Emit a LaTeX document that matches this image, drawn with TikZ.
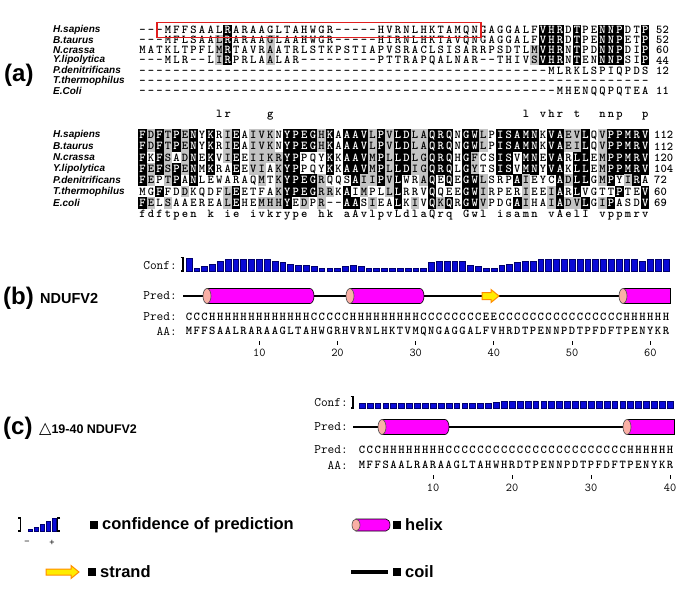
\documentclass[tikz,border=0pt]{standalone}
\usepackage{fontspec}
\usepackage{graphicx}
\newfontfamily\lsans{Liberation Sans}
\newfontfamily\djvb{DejaVu Sans}
\definecolor{shadegray}{RGB}{195,195,195}
\definecolor{hmag}{RGB}{255,0,255}
\definecolor{hcap}{RGB}{250,175,165}
\definecolor{barblue}{RGB}{10,10,215}
\definecolor{barline}{RGB}{0,0,110}
\definecolor{stfill}{RGB}{255,236,0}
\definecolor{stline}{RGB}{255,140,0}
\definecolor{boxred}{RGB}{225,30,30}
\newcommand\seqfont{\ttfamily\bfseries\fontsize{12}{12}\selectfont}
\tikzset{
 seqch/.style={inner sep=0pt, font=\seqfont, text=black, text height=7.3pt, text depth=0pt},
 seqw/.style={seqch, text=white},
 species/.style={inner sep=0pt, anchor=west, font=\lsans\bfseries\itshape\fontsize{10}{10}\selectfont},
 rownum/.style={inner sep=0pt, anchor=west, font=\ttfamily\bfseries\fontsize{12}{12}\selectfont},
 plabel/.style={inner sep=0pt, anchor=west, font=\lsans\bfseries\fontsize{24}{24}\selectfont},
 pname/.style={inner sep=0pt, anchor=west, font=\lsans\bfseries\fontsize{14.5}{14.5}\selectfont},
 monolab/.style={inner sep=0pt, anchor=east, font=\ttfamily\fontsize{13}{13}\selectfont},
 axnum/.style={inner sep=0pt, font=\ttfamily\fontsize{12}{12}\selectfont},
 confbar/.style={fill=barblue, draw=barline, line width=0.5pt},
 coil/.style={draw=black, line width=1.1pt},
 helixbody/.style={fill=hmag, draw=black, line width=0.6pt},
 helixcap/.style={fill=hcap, draw=black!70, line width=0.6pt},
 strandshape/.style={fill=stfill, draw=stline, line width=1pt},
 legtext/.style={inner sep=0pt, anchor=west, font=\lsans\bfseries\fontsize{16.5}{16.5}\selectfont},
 legsq/.style={fill=black},
 tickmark/.style={draw=black, line width=0.8pt},
 brk/.style={draw=black, line width=1.2pt},
}
% shapes
\newcommand\helixcyl[4][7.5]{%
  \filldraw[helixbody] ({#2},{#4-#1}) -- ({#3},{#4-#1}) arc[start angle=-90,end angle=90,x radius=4,y radius=#1] -- ({#2},{#4+#1}) -- cycle;
  \filldraw[helixcap] ({#2},{#4}) ellipse[x radius=4,y radius=#1];}
\newcommand\helixflat[4][7.5]{%
  \filldraw[helixbody] ({#2},{#4-#1}) rectangle ({#3},{#4+#1});
  \filldraw[helixcap] ({#2},{#4}) ellipse[x radius=4,y radius=#1];}
\newcommand\strandarrow[5]{% x1 x2 y shaft-half head-half
  \filldraw[strandshape] ({#1},{#3-#4}) -- ({#2-8},{#3-#4}) -- ({#2-8},{#3-#5}) -- ({#2},{#3}) -- ({#2-8},{#3+#5}) -- ({#2-8},{#3+#4}) -- ({#1},{#3+#4}) -- cycle;}
\ExplSyntaxOn
\prop_new:N \g_rs_mask_prop
\str_new:N \l_rs_seq_str
\tl_new:N \l_rs_tmp_tl
\tl_new:N \l_rs_col_tl
\tl_new:N \l_rs_ch_tl
\tl_new:N \l_rs_mk_tl
\NewExpandableDocumentCommand{\Rep}{mm}{\prg_replicate:nn{#1}{#2}}
\NewDocumentCommand{\SetMasks}{m}{
  \prop_gclear:N \g_rs_mask_prop
  \prop_gset_from_keyval:Nn \g_rs_mask_prop {#1}
}
\cs_new_protected:Npn \rs_getmask:nn #1#2
 {
   \tl_set:Nx \l_rs_col_tl { \prop_item:Nn \g_rs_mask_prop {#1} }
   \tl_set:Nx \l_rs_mk_tl { \str_item:Nn \l_rs_col_tl {#2} }
 }
% \SeqFill{x0}{pitch}{y}{h}{row}{ncols}
\NewDocumentCommand{\SeqFill}{mmmmmm}{
  \int_step_inline:nn {#6}
   {
     \rs_getmask:nn {##1} {#5}
     \str_if_eq:VnT \l_rs_mk_tl {b}
       { \fill[black]({#1+(##1-1)*#2-#2/2},{#3-#4/2})rectangle++(#2,#4); }
     \str_if_eq:VnT \l_rs_mk_tl {g}
       { \fill[shadegray]({#1+(##1-1)*#2-#2/2},{#3-#4/2})rectangle++(#2,#4); }
   }
}
% \SeqText{name}{x0}{pitch}{y}{row}{string}
\NewDocumentCommand{\SeqText}{mmmmmm}{
  \tl_set:Nx \l_rs_tmp_tl {#6}
  \str_set:NV \l_rs_seq_str \l_rs_tmp_tl
  \int_step_inline:nn { \str_count:N \l_rs_seq_str }
   {
     \tl_set:Nx \l_rs_ch_tl { \str_item:Nn \l_rs_seq_str {##1} }
     \rs_getmask:nn {##1} {#5}
     \str_if_eq:VnF \l_rs_ch_tl {.}
      {
        \str_if_eq:VnTF \l_rs_mk_tl {b}
          { \node[seqw](#1c##1)at({#2+(##1-1)*#3},{#4}){\tl_use:N \l_rs_ch_tl}; }
          { \node[seqch](#1c##1)at({#2+(##1-1)*#3},{#4}){\tl_use:N \l_rs_ch_tl}; }
      }
   }
}
\ExplSyntaxOff
\begin{document}
\begin{tikzpicture}[x=1pt,y=-1pt]
\useasboundingbox (0,0) rectangle (685,599);
\fill[white] (0,0) rectangle (685,599);

% ================= (a) =================
\node[plabel] (la) at (4,75) {(a)};
\foreach \nm [count=\r] in {H.sapiens,B.taurus,N.crassa,Y.lipolytica,P.denitrificans,T.thermophilus,E.Coli}
  \node[species] (sa\r) at (53,{30+(\r-1)*10.1}) {\nm};
\SetMasks{10=.ggg,11=bbbb,16=.ggg,47=..gg,48=bbbb,49=bbbb,50=bbbb,52=bbbb,55=bbbb,56=bbbb,57=bbbb,60=bbbb}
\foreach \r in {1,...,7} {\SeqFill{142.5}{8.52}{30+(\r-1)*10.1}{10.3}{\r}{60}}
\SeqText{aar}{142.5}{8.52}{30}{1}{\Rep{3}{-}MFFSAALRARAAGLTAHWGR\Rep{5}{-}HVRNLHKTAMQNGAGGALFVHRDTPENNPDTP}
\SeqText{abr}{142.5}{8.52}{40.1}{2}{\Rep{3}{-}MFLSAALRARAAGLAAHWGR\Rep{5}{-}HIRNLHKTAVQNGAGGALFVHRDTPENNPETP}
\SeqText{acr}{142.5}{8.52}{50.2}{3}{MATKLTPFLMRTAVRAATRLSTKPSTIAPVSRACLSISARRPSDTLMVHRNTPDNNPDIP}
\SeqText{adr}{142.5}{8.52}{60.3}{4}{\Rep{3}{-}MLR\Rep{2}{-}LIRPRLAALAR\Rep{9}{-}PTTRAPQALNAR\Rep{2}{-}THIVSVHRNTENNNPSIP}
\SeqText{aer}{142.5}{8.52}{70.4}{5}{\Rep{48}{-}MLRKLSPIQPDS}
\SeqText{afr}{142.5}{8.52}{80.5}{6}{\Rep{60}{-}}
\SeqText{agr}{142.5}{8.52}{90.6}{7}{\Rep{49}{-}MHENQQPQTEA}
\SeqText{acons}{142.5}{8.52}{114}{0}{\Rep{9}{.}lr\Rep{4}{.}g\Rep{29}{.}l.vhr.t\Rep{2}{.}nnp\Rep{2}{.}p}
\draw[boxred, line width=1.6pt] (157,22.5) rectangle (481,37.5);
\node[rownum] (na1) at (656,30) {52};
\node[rownum] (na2) at (656,40.1) {52};
\node[rownum] (na3) at (656,50.2) {60};
\node[rownum] (na4) at (656,60.3) {44};
\node[rownum] (na5) at (656,70.4) {12};
\node[rownum] (na7) at (656,90.6) {11};

% block 2
\foreach \nm [count=\r] in {H.sapiens,B.taurus,N.crassa,Y.lipolytica,P.denitrificans,T.thermophilus,E.coli}
  \node[species] (sb\r) at (53,{135+(\r-1)*11.3}) {\nm};
\SetMasks{1=bbbbb.b,2=gg.gg.g,3=bbbb.b.,4=ggggg.g,5=bb.bb..,6=gggg.g.,7=bbbbb..,8=.......,9=bbbb...,10=.......,
11=ggg..gg,12=bbbb.bb,13=.......,14=gggg...,15=ggggg.g,16=ggg...g,17=..ggggg,18=bbbbbbb,19=bbbbbb.,20=bb..bbg,
21=bb..bb.,22=gg..ggg,23=bbbb.g.,24=.......,25=bbbb.bb,26=bbbbb.b,27=bbbbgg.,28=ggggg.g,29=bbbbb..,30=gggggg.,
31=bbbbbbb,32=bbbb...,33=gggg..g,34=ggggg..,35=bbbbbbb,36=bbbb..g,37=bbbbb.b,38=.......,39=bbbbbbb,40=bbggbbb,
41=gg..ggg,42=.......,43=bbbb...,44=bbbb...,45=bb..b.b,46=bbbbggg,47=bbbb...,48=.......,49=bbbb.gg,50=bbbbbbb,
51=gg..g.g,52=ggbbbbg,53=bbbbb.b,54=.......,55=ggggg.g,56=bbbbb.b,57=bbbb.b.,58=bbbbg..,59=bbbbb..,60=bbbb.bb}
\foreach \r in {1,...,7} {\SeqFill{142.5}{8.52}{135+(\r-1)*11.3}{11.5}{\r}{60}}
\SeqText{bar}{142.5}{8.52}{135}{1}{FDFTPENYKRIEAIVKNYPEGHKAAAVLPVLDLAQRQNGWLPISAMNKVAEVLQVPPMRV}
\SeqText{bbr}{142.5}{8.52}{146.3}{2}{FDFTPENYKRIEAIVKNYPEGHKAAAVLPVLDLAQRQNGWLPISAMNKVAEILQVPPMRV}
\SeqText{bcr}{142.5}{8.52}{157.6}{3}{FKFSADNEKVIEEIIKRYPPQYKKAAVMPLLDLGQRQHGFCSISVMNEVARLLEMPPMRV}
\SeqText{bdr}{142.5}{8.52}{168.9}{4}{FEFSPENMKRAEEVIAKYPPQYKKAAVMPLLDIGQRQLGYTSISVMNYVAKLLEMPPMRV}
\SeqText{ber}{142.5}{8.52}{180.2}{5}{FEPTPANLEWARAQMTKYPEGRQQSAIIPVLWRAQEQEGWLSRPAIEYCADLLGMPYIRA}
\SeqText{bfr}{142.5}{8.52}{191.5}{6}{MGFFDDKQDFLEETFAKYPEGRRKAIMPLLLRRVQQEEGWIRPERIEEIARLVGTTPTEV}
\SeqText{bgr}{142.5}{8.52}{202.8}{7}{FELSAAEREALEHEMHHYEDPR--AASIEALKIVQKQRGWVPDGAIHAIADVLGIPASDV}
\SeqText{bcons}{142.5}{8.52}{214.1}{0}{fdftpen.k.ie.ivkrype.hk.aAvlpvLdlaQrq.Gwl.isamn.vAelI.vppmrv}
\node[rownum] (nb1) at (654,135) {112};
\node[rownum] (nb2) at (654,146.3) {112};
\node[rownum] (nb3) at (654,157.6) {120};
\node[rownum] (nb4) at (654,168.9) {104};
\node[rownum] (nb5) at (654,180.2) {72};
\node[rownum] (nb6) at (654,191.5) {60};
\node[rownum] (nb7) at (654,202.8) {69};
\SetMasks{}

% ================= (b) =================
\node[plabel] (lb) at (3,298) {(b)};
\node[pname] (nb) at (40,299) {NDUFV2};
\node[monolab] (confb) at (177,266) {Conf:};
\node[monolab] (predb) at (177,296) {Pred:};
\node[monolab] (predtb) at (177,317) {Pred:};
\node[monolab] (aab) at (177,331) {AA:};
\draw[brk] (180.5,257.5) -- (183,257.5) -- (183,271) -- (180.5,271);
\foreach \h [count=\i] in {9,2,3,5,7,8,8,8,8,8,8,7,6,5,4,4,3,2,2,2,3,4,3,2,2,2,2,2,2,2,2,6,7,7,7,7,4,3,2,2,4,5,6,7,7,8,8,8,8,8,8,8,8,8,8,8,8,8,7,8,8,8}
  \draw[confbar] ({188.9+(\i-1)*7.82-2.9},271) rectangle ++(5.8,{-\h*1.45});
\coordinate (bL) at (183,296);
\coordinate (bR) at (670,296);
\draw[coil] (bL) -- (bR);
\helixcyl{207}{310}{296}
\helixcyl{350}{420}{296}
\helixflat{623}{670}{296}
\strandarrow{482}{499}{296}{3.5}{6.5}
\SeqText{bpred}{188.9}{7.82}{317}{0}{\Rep{3}{C}\Rep{13}{H}\Rep{5}{C}\Rep{9}{H}\Rep{8}{C}EE\Rep{16}{C}\Rep{6}{H}}
\SeqText{baa}{188.9}{7.82}{331}{0}{MFFSAALRARAAGLTAHWGRHVRNLHKTVMQNGAGGALFVHRDTPENNPDTPFDFTPENYKR}
\foreach \k in {10,20,30,40,50,60} {
  \draw[tickmark] ({188.9+(\k-1)*7.82},341) -- ++(0,4);
  \node[axnum] (bx\k) at ({188.9+(\k-1)*7.82},353) {\k};
}

% ================= (c) =================
\node[plabel] (lc) at (3,428) {(c)};
\node[inner sep=0pt, anchor=west] (nc) at (39,429) {{\djvb\bfseries\fontsize{16}{16}\selectfont △}{\lsans\bfseries\fontsize{12.5}{12.5}\selectfont 19-40 NDUFV2}};
\node[monolab] (confc) at (348,403) {Conf:};
\node[monolab] (predc) at (348,427) {Pred:};
\node[monolab] (predtc) at (348,450) {Pred:};
\node[monolab] (aac) at (348,465) {AA:};
\draw[brk] (350.5,396.5) -- (353,396.5) -- (353,408) -- (350.5,408);
\foreach \h [count=\i] in {3,3,3,3,3,3,3,3,3,3,3,3,3,3,3,3,3,4,5,5,5,5,5,5,5,5,5,5,5,5,5,5,5,5,5,5,5,5,5,5}
  \draw[confbar] ({361.95+(\i-1)*7.9-2.9},408) rectangle ++(5.8,{-\h*1.45});
\coordinate (cL) at (353,427);
\coordinate (cR) at (674,427);
\draw[coil] (cL) -- (cR);
\helixcyl{382}{445}{427}
\helixflat{627}{674}{427}
\SeqText{cpred}{361.95}{7.9}{450}{0}{\Rep{3}{C}\Rep{8}{H}\Rep{23}{C}\Rep{6}{H}}
\SeqText{caa}{361.95}{7.9}{465}{0}{MFFSAALRARAAGLTAHWHRDTPENNPDTPFDFTPENYKR}
\foreach \k in {10,20,30,40} {
  \draw[tickmark] ({361.95+(\k-1)*7.9},475) -- ++(0,4);
  \node[axnum] (cx\k) at ({361.95+(\k-1)*7.9},488) {\k};
}

% ================= legend =================
\draw[brk] (18,518) -- (20.5,518) -- (20.5,531) -- (18,531);
\foreach \h [count=\i] in {1.5,4,7,10,13}
  \draw[confbar] ({22+\i*6},531) rectangle ++(4.5,{-\h});
\draw[brk] (60,518) -- (57.5,518) -- (57.5,531) -- (60,531);
\node[inner sep=0pt, font=\lsans\fontsize{9}{9}\selectfont] (lminus) at (27,543) {−};
\node[inner sep=0pt, font=\lsans\fontsize{9}{9}\selectfont] (lplus) at (52,543) {+};
\fill[legsq] (90,521) rectangle (98,529);
\node[legtext] (tconf) at (102,525) {confidence of prediction};
\helixcyl[6]{356}{386}{525}
\fill[legsq] (393,521) rectangle (401,529);
\node[legtext] (thelix) at (405,525) {helix};
\strandarrow{46}{79}{572}{3}{6.5}
\fill[legsq] (88,568) rectangle (96,576);
\node[legtext] (tstrand) at (100,572) {strand};
\coordinate (coilA) at (351,572);
\coordinate (coilB) at (388,572);
\draw[draw=black, line width=3.5pt] (coilA) -- (coilB);
\fill[legsq] (393,568) rectangle (401,576);
\node[legtext] (tcoil) at (405,572) {coil};
\end{tikzpicture}
\end{document}
